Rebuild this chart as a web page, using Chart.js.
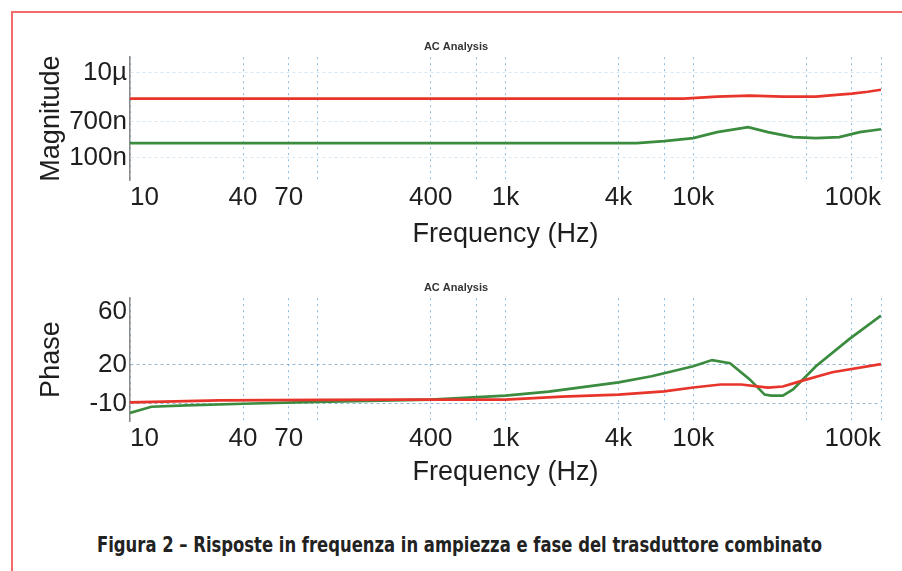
<!DOCTYPE html>
<html>
<head>
<meta charset="utf-8">
<script src="https://cdn.jsdelivr.net/npm/chart.js@4.4.0/dist/chart.umd.min.js"></script>
<style>
  html, body { margin: 0; padding: 0; background: #fff; }
  #page { position: relative; width: 902px; height: 571px; overflow: hidden; }
  #frame { position: absolute; left: 11px; top: 11px; width: 900px; height: 570px;
           border-top: 2px solid #f26b6b; border-left: 2px solid #f26b6b; }
  .box { position: absolute; left: 0; width: 902px; height: 260px; }
  #caption { position: absolute; left: 97px; top: 533px; white-space: nowrap;
             font-family: "DejaVu Sans Condensed", "DejaVu Sans", sans-serif; font-weight: bold;
             font-size: 21px; color: #222; transform-origin: 0 0; }
</style>
</head>
<body>
<div id="page">
  <div id="frame"></div>
  <div class="box" style="top:0"><canvas id="magnitude"></canvas></div>
  <div class="box" style="top:241px"><canvas id="phase"></canvas></div>
  <div id="caption">Figura 2 – Risposte in frequenza in ampiezza e fase del trasduttore combinato</div>
</div>
<script>
Chart.defaults.font.family = "'Liberation Sans', Arial, sans-serif";
Chart.defaults.color = '#1e1e1e';

// asse delle frequenze
const freqGrid = [10, 40, 70, 100, 400, 700, 1000, 4000, 7000, 10000, 40000, 70000, 100000];
const freqLabels = { 10: '10', 40: '40', 70: '70', 400: '400', 1000: '1k', 4000: '4k', 10000: '10k', 100000: '100k' };

// ampiezza (V)
const magTicks = [1e-7, 7e-7, 1e-5];
const magLabels = { 1e-7: '100n', 7e-7: '700n', 1e-5: '10\u00b5' };
const magRedFreq = [10, 1000, 5000, 8900, 13400, 20000, 30000, 45000, 60000, 70000, 85000, 100000];
const magRed = [2.48e-6, 2.48e-6, 2.48e-6, 2.48e-6, 2.77e-6, 2.92e-6, 2.77e-6, 2.77e-6, 3.08e-6, 3.25e-6, 3.61e-6, 4.02e-6];
const magGreenFreq = [10, 1000, 5000, 7000, 10000, 13400, 19600, 25000, 34000, 45000, 60000, 77000, 100000];
const magGreen = [2.23e-7, 2.23e-7, 2.23e-7, 2.48e-7, 2.92e-7, 4.02e-7, 5.26e-7, 4.02e-7, 3.08e-7, 2.92e-7, 3.08e-7, 4.02e-7, 4.72e-7];

// fase (gradi)
const phaseTicks = [-10, 5, 20, 35, 60];
const phaseLabels = { '-10': '-10', 20: '20', 60: '60' };
const phaseRedFreq = [10, 30, 100, 300, 1000, 2000, 4000, 7000, 10000, 14000, 18000, 25000, 30000, 37000, 55000, 100000];
const phaseRed = [-9, -7.4, -7.1, -6.9, -6.9, -4.6, -3, -0.5, 2.4, 4.7, 4.7, 2.4, 3.2, 7.1, 14.1, 20.3];
const phaseGreenFreq = [10, 13, 20, 40, 100, 400, 1000, 1700, 4000, 6000, 10000, 12600, 15700, 20000, 24000, 26000, 30000, 34000, 45000, 68000, 100000];
const phaseGreen = [-17, -12.3, -11.3, -10, -8.5, -6.9, -3.8, -0.7, 6.3, 11, 18.7, 23.4, 21, 8.6, -3, -3.8, -3.8, 0.9, 18.7, 39.6, 57.5];

const RED = '#e8352c';
const GREEN = '#3b8c3f';

function pts(xs, ys) {
    return xs.map((x, i) => ({ x: x, y: ys[i] }));
}

function makeChart(id, yTitle, yScale, datasets, titleGap) {
    new Chart(document.getElementById(id), {
        type: 'line',
        data: { datasets: datasets },
        options: {
            responsive: true,
            maintainAspectRatio: false,
            animation: false,
            layout: { padding: { left: 31, right: 21, top: 0, bottom: 0 } },
            plugins: {
                legend: { display: false },
                tooltip: { enabled: false },
                title: {
                    display: true,
                    text: 'AC Analysis',
                    font: { size: 11, weight: 'bold' },
                    color: '#333',
                    padding: { top: 40, bottom: 4 }
                }
            },
            elements: {
                point: { radius: 0 },
                line: { borderWidth: 2.7, tension: 0 }
            },
            scales: {
                x: {
                    type: 'logarithmic',
                    min: 10,
                    max: 100000,
                    afterBuildTicks: s => { s.ticks = freqGrid.map(v => ({ value: v })); },
                    afterFit: s => { s.height = 80; },
                    ticks: {
                        autoSkip: false,
                        maxRotation: 0,
                        align: 'inner',
                        padding: 2,
                        font: { size: 26 },
                        callback: v => freqLabels[v] || ''
                    },
                    grid: {
                        drawTicks: false,
                        color: 'rgba(100,165,215,0.75)',
                        lineWidth: 1
                    },
                    border: { display: false, dash: [2, 4] },
                    title: {
                        display: true,
                        text: 'Frequency (Hz)',
                        font: { size: 27 },
                        padding: { top: 0, bottom: titleGap }
                    }
                },
                y: Object.assign({
                    afterFit: s => { s.width = 99; },
                    title: {
                        display: true,
                        text: yTitle,
                        font: { size: 27 },
                        padding: { top: 4, bottom: 0 }
                    },
                    border: { display: true, color: '#8a8a8a', width: 1.5, dash: [3, 3] }
                }, yScale)
            }
        }
    });
}

makeChart('magnitude', 'Magnitude', {
    type: 'logarithmic',
    min: 3.08e-8,
    max: 2.35e-5,
    afterBuildTicks: s => { s.ticks = magTicks.map(v => ({ value: v })); },
    ticks: { padding: 3, font: { size: 26 }, callback: v => magLabels[v] || '' },
    grid: { drawTicks: false, color: 'rgba(140,185,220,0.35)' }
}, [
    { data: pts(magRedFreq, magRed), borderColor: RED },
    { data: pts(magGreenFreq, magGreen), borderColor: GREEN }
], 9);

makeChart('phase', 'Phase', {
    type: 'linear',
    min: -23.2,
    max: 70.7,
    afterBuildTicks: s => { s.ticks = phaseTicks.map(v => ({ value: v })); },
    ticks: { padding: 3, font: { size: 26 }, callback: v => phaseLabels[v] || '' },
    grid: {
        drawTicks: false,
        color: ctx => ctx.tick && ctx.tick.value === 60 ? 'rgba(0,0,0,0)' : 'rgba(110,160,205,0.75)'
    }
}, [
    { data: pts(phaseRedFreq, phaseRed), borderColor: RED },
    { data: pts(phaseGreenFreq, phaseGreen), borderColor: GREEN }
], 12);

// larghezza della didascalia come nel riferimento
const cap = document.getElementById('caption');
const w = cap.getBoundingClientRect().width;
cap.style.transform = 'scaleX(' + (725 / w) + ')';
</script>
</body>
</html>
